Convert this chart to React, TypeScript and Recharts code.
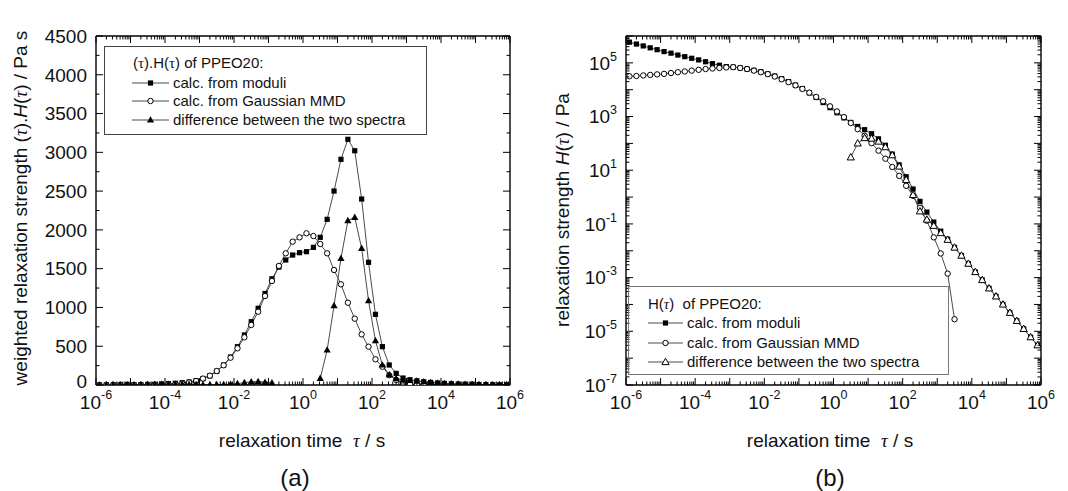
import React from "react";
import { LineChart, Line, XAxis, YAxis } from "recharts";

const SANS = '"Liberation Sans", Arial, Helvetica, sans-serif';
const SERIF = '"Liberation Serif", "Times New Roman", serif';
const INK = "#111";
const LINE = "#4a4a4a";

// relaxation times shared by every spectrum (five per decade), s
const tau = [
  1.26e-6, 2.0e-6, 3.16e-6, 5.01e-6, 7.94e-6, 1.26e-5, 2.0e-5, 3.16e-5, 5.01e-5, 7.94e-5,
  1.26e-4, 2.0e-4, 3.16e-4, 5.01e-4, 7.94e-4, 1.26e-3, 2.0e-3, 3.16e-3, 5.01e-3, 7.94e-3,
  0.0126, 0.02, 0.0316, 0.0501, 0.0794, 0.126, 0.2, 0.316, 0.501, 0.794,
  1.26, 2.0, 3.16, 5.01, 7.94, 12.6, 20.0, 31.6, 50.1, 79.4,
  126, 200, 316, 501, 794, 1260, 2000, 3160, 5010, 7940,
  1.26e4, 2.0e4, 3.16e4, 5.01e4, 7.94e4, 1.26e5, 2.0e5, 3.16e5, 5.01e5, 7.94e5,
];

// (a) weighted spectra tau.H(tau), Pa s
const weightedModuli = [
  0.9, 1.2, 1.6, 2.1, 2.8, 3.7, 5, 6.6, 9, 12,
  17, 22, 30, 39, 54, 82, 118, 178, 258, 360,
  494, 645, 816, 989, 1180, 1370, 1520, 1612, 1676, 1706,
  1719, 1775, 1904, 2136, 2501, 2910, 3168, 3021, 2398, 1582,
  911, 494, 258, 150, 90, 68, 54, 42, 33, 26,
  20, 16, 12.6, 10, 7.9, 6.2, 4.9, 3.9, 3.0, 2.4,
];
const weightedGauss = [
  0.05, 0.08, 0.13, 0.2, 0.33, 0.55, 0.9, 1.5, 2.5, 4.2,
  6.9, 11.5, 19.5, 32, 51, 83, 120, 180, 254, 352,
  473, 615, 774, 945, 1147, 1341, 1536, 1698, 1848, 1904,
  1956, 1921, 1818, 1698, 1483, 1298, 1061, 855, 653, 494,
  331, 236, 126, 66, 25, 10, 2.8, 0.09, null, null,
  null, null, null, null, null, null, null, null, null, null,
];
const weightedDiff = [
  0.85, 1.1, 1.5, 1.9, 2.5, 3.2, 4.1, 5.1, 6.5, 7.8,
  10, 10.5, 10.5, 7, 3, 3, 4, 5, 6, 10,
  18, 30, 40, 44, 35, 28, null, null, null, null,
  null, null, 86, 451, 1023, 1633, 2119, 2162, 1762, 1087,
  571, 258, 132, 84, 65, 58, 51, 42, 33, 26,
  20, 16, 12.6, 10, 7.9, 6.2, 4.9, 3.9, 3.0, 2.4,
];

// (b) spectra H(tau), Pa
const spectrumModuli = [
  5.89e5, 5.01e5, 4.27e5, 3.63e5, 3.09e5, 2.63e5, 2.29e5, 1.95e5, 1.7e5, 1.48e5,
  1.29e5, 1.1e5, 9.33e4, 8.13e4, 7.24e4, 6.92e4, 6.46e4, 5.89e4, 5.25e4, 4.68e4,
  3.89e4, 3.24e4, 2.57e4, 2.0e4, 1.48e4, 1.1e4, 7590, 5130, 3310, 2140,
  1380, 891, 603, 427, 324, 229, 148, 85.1, 39.8, 15.8,
  5.75, 2.0, 0.692, 0.275, 0.117, 0.0537, 0.0269, 0.0132, 6.61e-3, 3.31e-3,
  1.62e-3, 8.13e-4, 3.98e-4, 2.0e-4, 1.0e-4, 4.9e-5, 2.45e-5, 1.23e-5, 6.03e-6, 3.02e-6,
];
const spectrumGauss = [
  3.16e4, 3.24e4, 3.39e4, 3.55e4, 3.72e4, 3.89e4, 4.17e4, 4.47e4, 4.79e4, 5.13e4,
  5.5e4, 5.89e4, 6.17e4, 6.46e4, 6.76e4, 6.92e4, 6.46e4, 5.89e4, 5.13e4, 4.47e4,
  3.8e4, 3.09e4, 2.45e4, 1.91e4, 1.45e4, 1.07e4, 7760, 5370, 3720, 2400,
  1550, 955, 575, 339, 191, 102, 53.7, 26.9, 13.2, 6.17,
  2.63, 1.12, 0.398, 0.132, 0.0316, 7.94e-3, 1.41e-3, 2.82e-5, null, null,
  null, null, null, null, null, null, null, null, null, null,
];
const spectrumDiff = [
  null, null, null, null, null, null, null, null, null, null,
  null, null, null, null, null, null, null, null, null, null,
  null, null, null, null, null, null, null, null, null, null,
  null, null, 30.2, 100, 158, 151, 117, 72.4, 36.3, 13.8,
  4.37, 1.2, 0.295, 0.145, 0.0851, 0.0457, 0.0257, 0.0132, 6.61e-3, 3.31e-3,
  1.62e-3, 8.13e-4, 3.98e-4, 2.0e-4, 1.0e-4, 4.9e-5, 2.45e-5, 1.23e-5, 6.03e-6, 3.02e-6,
];

// axis ticks
const xDecades = [-6, -5, -4, -3, -2, -1, 0, 1, 2, 3, 4, 5, 6];
const yTicksA = [0, 500, 1000, 1500, 2000, 2500, 3000, 3500, 4000, 4500];
const yMinorA = [250, 750, 1250, 1750, 2250, 2750, 3250, 3750, 4250];
const yDecadesB = [-7, -6, -5, -4, -3, -2, -1, 0, 1, 2, 3, 4, 5, 6];

const rowsA = tau.map((t, i) => ({
  tau: t,
  moduli: weightedModuli[i],
  gauss: weightedGauss[i],
  diff: weightedDiff[i],
}));
const rowsB = tau.map((t, i) => ({
  tau: t,
  moduli: spectrumModuli[i],
  gauss: spectrumGauss[i],
  diff: spectrumDiff[i],
}));

function logTicks(decades: number[]) {
  const out: number[] = [];
  decades.forEach((e, i) => {
    out.push(Math.pow(10, e));
    if (i < decades.length - 1) {
      for (let k = 2; k <= 9; k++) out.push(k * Math.pow(10, e));
    }
  });
  return out;
}
const xTicks = logTicks(xDecades);
const yTicksB = logTicks(yDecadesB);
const yTicksAll = [...yTicksA, ...yMinorA].sort((a, b) => a - b);

const TOP = 36;
const BOTTOM = 385;

function decadeOf(v: number) {
  const l = Math.log10(v);
  const e = Math.round(l);
  return Math.abs(l - e) < 1e-6 ? e : null;
}

function Marker({ kind, x, y }: { kind: string; x: number; y: number }) {
  if (kind === "square")
    return <rect x={x - 2.6} y={y - 2.6} width={5.2} height={5.2} fill="#000" />;
  if (kind === "circle")
    return <circle cx={x} cy={y} r={2.7} fill="#fff" stroke="#000" strokeWidth={1} />;
  const pts = `${x},${y - 3.8} ${x - 3.6},${y + 2.6} ${x + 3.6},${y + 2.6}`;
  if (kind === "triangle") return <polygon points={pts} fill="#000" />;
  return <polygon points={pts} fill="#fff" stroke="#000" strokeWidth={1} />;
}

const dotOf = (kind: string) => (p: any) => {
  if (!Number.isFinite(p.cx) || !Number.isFinite(p.cy)) return <g key={p.index} />;
  return (
    <g key={p.index}>
      <Marker kind={kind} x={p.cx} y={p.cy} />
    </g>
  );
};

function Pow({ e, dy }: { e: number; dy: number }) {
  return (
    <>
      10
      <tspan dy={dy} fontSize={12.5}>
        {e}
      </tspan>
    </>
  );
}

function BottomTick(props: any) {
  const x = props.payload.coordinate;
  const e = decadeOf(props.payload.value);
  const len = e === null ? 3.5 : 7;
  return (
    <g>
      <line x1={x} x2={x} y1={BOTTOM} y2={BOTTOM - len} stroke="#000" strokeWidth={1} />
      {e !== null && e % 2 === 0 && (
        <text x={x} y={BOTTOM + 24} textAnchor="middle" fontSize={19} fontFamily={SANS} fill={INK}>
          <Pow e={e} dy={-10} />
        </text>
      )}
    </g>
  );
}

function TopTick(props: any) {
  const x = props.payload.coordinate;
  const len = decadeOf(props.payload.value) === null ? 3.5 : 7;
  return <line x1={x} x2={x} y1={TOP} y2={TOP + len} stroke="#000" strokeWidth={1} />;
}

function LinearLeftTick(props: any) {
  const y = props.payload.coordinate;
  const v = props.payload.value;
  const major = v % 500 === 0;
  // the zero label sits a little higher so it clears the first time label
  const lift = v === 0 ? 3.5 : 0;
  return (
    <g>
      <line x1={props.edge} x2={props.edge + (major ? 7 : 3.5)} y1={y} y2={y} stroke="#000" />
      {major && (
        <text x={props.edge - 9} y={y + 6.8 - lift} textAnchor="end" fontSize={19} fontFamily={SANS} fill={INK}>
          {v}
        </text>
      )}
    </g>
  );
}

function LogLeftTick(props: any) {
  const y = props.payload.coordinate;
  const e = decadeOf(props.payload.value);
  const labelled = e !== null && Math.abs(e % 2) === 1;
  return (
    <g>
      <line x1={props.edge} x2={props.edge + (e === null ? 3.5 : 7)} y1={y} y2={y} stroke="#000" />
      {labelled && (
        <text x={props.edge - 9} y={y + 6.8} textAnchor="end" fontSize={19} fontFamily={SANS} fill={INK}>
          <Pow e={e as number} dy={-9} />
        </text>
      )}
    </g>
  );
}

function RightTick(props: any) {
  const y = props.payload.coordinate;
  const v = props.payload.value;
  const major = props.log ? decadeOf(v) !== null : v % 500 === 0;
  return <line x1={props.edge} x2={props.edge - (major ? 7 : 3.5)} y1={y} y2={y} stroke="#000" />;
}

const FRAME = { stroke: "#000", strokeWidth: 1.4 };

function Tau() {
  return <span style={{ fontFamily: SERIF, fontStyle: "italic" }}>τ</span>;
}

function LegendRow({ kind, top, sampleLeft, sampleWidth, textLeft, label }: any) {
  return (
    <>
      <svg
        style={{ position: "absolute", left: sampleLeft, top: top - 6 }}
        width={sampleWidth}
        height={12}
      >
        <line x1={0} x2={sampleWidth} y1={6} y2={6} stroke={LINE} strokeWidth={1} />
        <Marker kind={kind} x={sampleWidth / 2} y={6} />
      </svg>
      <div style={{ position: "absolute", left: textLeft, top: top - 9, lineHeight: "18px", whiteSpace: "nowrap" }}>
        {label}
      </div>
    </>
  );
}

const legendRows = [
  "calc. from moduli",
  "calc. from Gaussian MMD",
  "difference between the two spectra",
];

// axes get a 1px band each: recharts skips drawing an axis whose band is empty
function Panel({ left, plotLeft, plotRight, data, log }: any) {
  const lineKinds = log ? ["square", "circle", "openTriangle"] : ["square", "circle", "triangle"];
  return (
    <div style={{ position: "absolute", left, top: 0 }}>
      <LineChart
        width={534}
        height={491}
        data={data}
        margin={{ top: TOP - 1, bottom: 491 - BOTTOM - 1, left: plotLeft - 1, right: 534 - plotRight - 1 }}
      >
        <XAxis
          xAxisId="b"
          dataKey="tau"
          type="number"
          scale="log"
          domain={[1e-6, 1e6]}
          allowDataOverflow
          ticks={xTicks}
          interval={0}
          height={1}
          tickLine={false}
          axisLine={FRAME}
          tick={<BottomTick />}
        />
        <XAxis
          xAxisId="t"
          orientation="top"
          dataKey="tau"
          type="number"
          scale="log"
          domain={[1e-6, 1e6]}
          allowDataOverflow
          ticks={xTicks}
          interval={0}
          height={1}
          tickLine={false}
          axisLine={FRAME}
          tick={<TopTick />}
        />
        {log ? (
          <YAxis
            yAxisId="l"
            type="number"
            scale="log"
            domain={[1e-7, 1e6]}
            allowDataOverflow
            ticks={yTicksB}
            interval={0}
            width={1}
            tickLine={false}
            axisLine={FRAME}
            tick={<LogLeftTick edge={plotLeft} />}
          />
        ) : (
          <YAxis
            yAxisId="l"
            type="number"
            domain={[0, 4500]}
            allowDataOverflow
            ticks={yTicksAll}
            interval={0}
            width={1}
            tickLine={false}
            axisLine={FRAME}
            tick={<LinearLeftTick edge={plotLeft} />}
          />
        )}
        <YAxis
          yAxisId="r"
          orientation="right"
          type="number"
          scale={log ? "log" : "linear"}
          domain={log ? [1e-7, 1e6] : [0, 4500]}
          allowDataOverflow
          ticks={log ? yTicksB : yTicksAll}
          interval={0}
          width={1}
          tickLine={false}
          axisLine={FRAME}
          tick={<RightTick edge={plotRight} log={log} />}
        />
        {["moduli", "gauss", "diff"].map((key, i) => (
          <Line
            key={key}
            xAxisId="b"
            yAxisId="l"
            dataKey={key}
            type="linear"
            stroke={LINE}
            strokeWidth={1}
            dot={dotOf(lineKinds[i])}
            activeDot={false}
            isAnimationActive={false}
          />
        ))}
      </LineChart>
    </div>
  );
}

export default function App() {
  const text: React.CSSProperties = { position: "absolute", fontFamily: SANS, color: INK, whiteSpace: "nowrap" };
  return (
    <div style={{ position: "absolute", left: 0, top: 0, width: 1068, height: 491, background: "#fff", overflow: "hidden" }}>
      <Panel left={0} plotLeft={96} plotRight={510} data={rowsA} log={false} />
      <Panel left={534} plotLeft={92} plotRight={507} data={rowsB} log={true} />

      {/* axis titles */}
      <div style={{ ...text, left: 152, width: 300, top: 431, fontSize: 19, lineHeight: "19px", textAlign: "center" }}>
        relaxation time&nbsp; <Tau /> / s
      </div>
      <div style={{ ...text, left: 680, width: 300, top: 431, fontSize: 19, lineHeight: "19px", textAlign: "center" }}>
        relaxation time&nbsp; <Tau /> / s
      </div>
      <div
        style={{
          ...text, left: 21 - 210, top: 208 - 11, width: 420, height: 22, fontSize: 19, lineHeight: "22px",
          textAlign: "center", transform: "rotate(-90deg)",
        }}
      >
        weighted relaxation strength (<Tau />).<i>H</i>(<Tau />) / Pa s
      </div>
      <div
        style={{
          ...text, left: 563 - 160, top: 210 - 11, width: 320, height: 22, fontSize: 19, lineHeight: "22px",
          textAlign: "center", transform: "rotate(-90deg)",
        }}
      >
        relaxation strength <i>H</i>(<Tau />) / Pa
      </div>

      {/* panel captions */}
      <div style={{ ...text, left: 245, width: 100, top: 466, fontSize: 24, lineHeight: "24px", textAlign: "center" }}>(a)</div>
      <div style={{ ...text, left: 780, width: 100, top: 466, fontSize: 24, lineHeight: "24px", textAlign: "center" }}>(b)</div>

      {/* legend of panel (a) */}
      <div style={{ ...text, left: 104, top: 46, width: 321, height: 87, border: "1px solid #444", fontSize: 15 }}>
        <div style={{ position: "absolute", left: 28, top: 7, lineHeight: "18px" }}>
          (<span style={{ fontFamily: SERIF }}>τ</span>).H(<span style={{ fontFamily: SERIF }}>τ</span>) of PPEO20:
        </div>
        {legendRows.map((label, i) => (
          <LegendRow
            key={label}
            kind={["square", "circle", "triangle"][i]}
            top={[35.7, 54, 73.3][i]}
            sampleLeft={27}
            sampleWidth={37}
            textLeft={68}
            label={label}
          />
        ))}
      </div>

      {/* legend of panel (b) */}
      <div style={{ ...text, left: 628, top: 286, width: 319, height: 87, border: "1px solid #777", fontSize: 15 }}>
        <div style={{ position: "absolute", left: 19, top: 8, lineHeight: "18px" }}>
          H(<Tau />)&nbsp; of PPEO20:
        </div>
        {legendRows.map((label, i) => (
          <LegendRow
            key={label}
            kind={["square", "circle", "openTriangle"][i]}
            top={[35.7, 55.7, 75][i]}
            sampleLeft={19}
            sampleWidth={35}
            textLeft={58}
            label={label}
          />
        ))}
      </div>
    </div>
  );
}
